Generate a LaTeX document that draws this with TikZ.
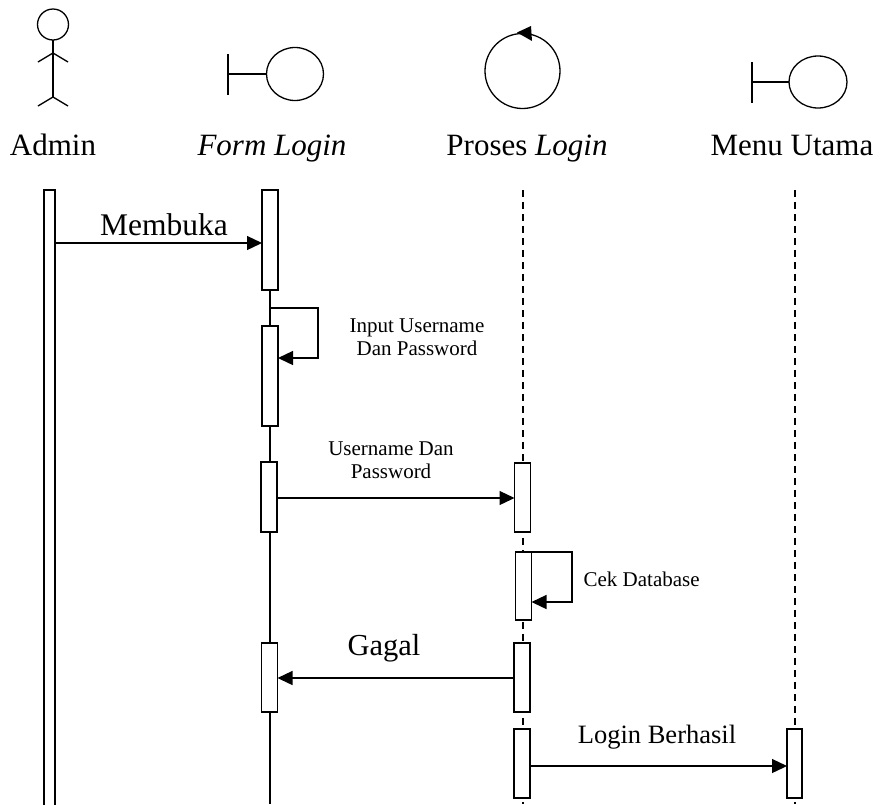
\documentclass[tikz,border=0pt]{standalone}
\usepackage{fontspec}
\setmainfont{Liberation Serif}
\usetikzlibrary{arrows.meta}
\newcommand{\bigtxt}{\fontsize{31}{34}\selectfont}
\newcommand{\midtxt}{\fontsize{31.5}{34}\selectfont}
\newcommand{\smalltxt}{\fontsize{21}{23}\selectfont}
\begin{document}
\begin{tikzpicture}[x=1pt,y=-1pt,line width=1.3pt,
        actbox/.style={rectangle,draw,fill=white,minimum width=16pt,
            inner sep=0pt,outer sep=0pt},
        msg/.style={-{Triangle[length=15pt,width=14pt]}},
        life/.style={dash pattern=on 7pt off 5pt},
        head/.style={anchor=base,font=\bigtxt},
        lbl/.style={anchor=base,font=\midtxt},
        note/.style={align=center,font=\smalltxt,inner sep=0pt}]
\useasboundingbox (0,0) rectangle (880,804);

% actor
\draw (53,24.5) circle (15.5);
\draw (53,40) -- (53,97);
\draw (38,62) -- (53,53) -- (68,62);
\draw (38,106) -- (53,97) -- (68,106);
% boundary
\draw (228,54) -- (228,95);
\draw (228,74) -- (266,74);
\draw (295,74) ellipse (28.5 and 26.5);
% control
\draw (522.5,71) circle (37.5);
\fill (517,32.5) -- (531,26) -- (532,41) -- cycle;
% boundary
\draw (752,62) -- (752,103);
\draw (752,82) -- (789,82);
\draw (818,82) ellipse (29 and 26);

\node[head] (tadm) at (53,155) {Admin};
\node[head] (tform) at (272,155) {\itshape Form Login};
\node[head] (tproc) at (527,155) {Proses \itshape Login};
\node[head] (tmenu) at (792,155) {Menu Utama};

% lifelines
\draw (270,290) -- (270,804);
\draw[life] (523,190) -- (523,804);
\draw[life] (795,190) -- (795,804);

\node[actbox,minimum width=11pt,minimum height=616pt] (adm) at (49.5,498) {};

\node[actbox,minimum height=100pt] (fl1) at (270,240) {};
\node[actbox,minimum height=100pt] (fl2) at (270,376) {};
\node[actbox,minimum height=70pt] (fl3) at (269,497) {};
\node[actbox,minimum height=69pt] (fl4) at (269.5,677.5) {};

\node[actbox,minimum height=69pt] (pl1) at (522.5,497.5) {};
\node[actbox,minimum height=68pt] (pl2) at (523.5,586) {};
\node[actbox,minimum height=69pt] (pl3) at (522,677.5) {};
\node[actbox,minimum height=69pt] (pl4) at (522,763.5) {};

\node[actbox,minimum width=15pt,minimum height=69pt] (mu1) at (794.5,763.5) {};

% messages
\coordinate (m1) at (0,243);
\coordinate (m2a) at (0,308);
\coordinate (m2b) at (0,358);
\coordinate (m3) at (0,498);
\coordinate (m4a) at (0,552);
\coordinate (m4b) at (0,602);
\coordinate (m5) at (0,678);
\coordinate (m6) at (0,766);

\draw[msg] (adm.east |- m1) -- (fl1.west |- m1);
\node[lbl] (tmembuka) at (164,235) {Membuka};

\draw[msg] (270,308) -- (318,308) -- (318,358) -- (fl2.east |- m2b);
\node[note] (tinput) at (417,337) {Input Username\\Dan Password};

\draw[msg] (fl3.east |- m3) -- (pl1.west |- m3);
\node[note] (tuser) at (391,460) {Username Dan\\Password};

\draw[msg] (pl2.east |- m4a) -- (572,552) -- (572,602) -- (pl2.east |- m4b);
\node[note,anchor=base west] (tcek) at (583,586) {Cek Database};

\draw[msg] (pl3.west |- m5) -- (fl4.east |- m5);
\node[lbl,font=\fontsize{30.5}{33}\selectfont] (tgagal) at (384,655) {Gagal};

\draw[msg] (pl4.east |- m6) -- (mu1.west |- m6);
\node[lbl,font=\fontsize{26.5}{30}\selectfont] (tberhasil) at (657,743) {Login Berhasil};
\end{tikzpicture}
\end{document}
